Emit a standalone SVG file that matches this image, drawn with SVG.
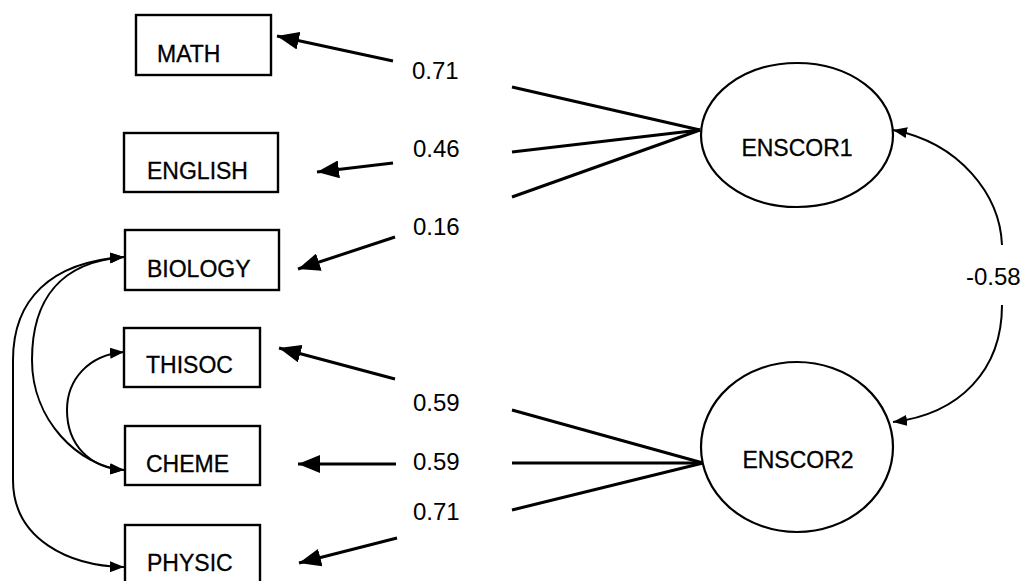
<svg xmlns="http://www.w3.org/2000/svg" width="1029" height="581" viewBox="0 0 1029 581">
<defs>
<marker id="big" markerUnits="userSpaceOnUse" markerWidth="22" markerHeight="18" viewBox="0 0 22 18" refX="22" refY="9" orient="auto-start-reverse">
<path d="M0,0 L22,9 L0,18 Z" fill="#000"/>
</marker>
<marker id="small" markerUnits="userSpaceOnUse" markerWidth="14" markerHeight="11" viewBox="0 0 14 11" refX="14" refY="5.5" orient="auto-start-reverse">
<path d="M0,0 L14,5.5 L0,11 Z" fill="#000"/>
</marker>
<style>
.box{fill:#fff;stroke:#000;stroke-width:2.4}
.lat{fill:#fff;stroke:#000;stroke-width:2.2}
.lbl{font-family:"Liberation Sans",Arial,sans-serif;font-size:23px;fill:#000;stroke:#000;stroke-width:0.3}
.num{font-family:"Liberation Sans",Arial,sans-serif;font-size:24px;fill:#000}
.arr{stroke:#000;stroke-width:3;fill:none;marker-end:url(#big)}
.ld{stroke:#000;stroke-width:3;fill:none}
.cv{stroke:#000;stroke-width:2;fill:none;marker-start:url(#small);marker-end:url(#small)}
.cor{stroke:#000;stroke-width:2;fill:none;marker-end:url(#small)}
</style>
</defs>
<rect width="1029" height="581" fill="#fff"/>
<g id="connectors">
<line class="arr" x1="393" y1="61" x2="277" y2="36"/>
<line class="arr" x1="393" y1="163" x2="317" y2="172"/>
<line class="arr" x1="395" y1="237" x2="298" y2="269"/>
<line class="arr" x1="395" y1="379" x2="279" y2="348"/>
<line class="arr" x1="396" y1="464" x2="298" y2="464"/>
<line class="arr" x1="397" y1="538" x2="299" y2="563"/>
<line class="ld" x1="512" y1="87" x2="700" y2="130"/>
<line class="ld" x1="512" y1="152" x2="700" y2="130"/>
<line class="ld" x1="512" y1="197" x2="700" y2="130"/>
<line class="ld" x1="512" y1="410" x2="703" y2="463"/>
<line class="ld" x1="512" y1="463" x2="703" y2="463"/>
<line class="ld" x1="512" y1="510" x2="703" y2="463"/>
<path class="cv" d="M124,257 C60,262 32,300 32,360 C32,420 78,466 124,470"/>
<path class="cv" d="M124,257 C50,262 13,300 13,360 L13,480 C13,540 70,566 124,567"/>
<path class="cv" d="M124,352 C88,355 67,380 67,410 C67,445 90,468 124,470"/>
<path class="cor" d="M1002,245 C1000,195 960,143 893,130"/>
<path class="cor" d="M1002,305 C1002,370 960,414 893,422"/>
<text class="num" x="412" y="79">0.71</text>
<text class="num" x="413" y="157">0.46</text>
<text class="num" x="413" y="235">0.16</text>
<text class="num" x="413" y="411">0.59</text>
<text class="num" x="413" y="470">0.59</text>
<text class="num" x="413" y="520">0.71</text>
<text class="num" x="966" y="285">-0.58</text>
</g>
<g id="MATH"><rect class="box" x="136" y="15" width="135" height="60"/><text class="lbl" x="157" y="62">MATH</text></g>
<g id="ENGLISH"><rect class="box" x="124" y="133" width="154" height="59"/><text class="lbl" x="147" y="179">ENGLISH</text></g>
<g id="BIOLOGY"><rect class="box" x="125" y="230" width="154" height="60"/><text class="lbl" x="147" y="277">BIOLOGY</text></g>
<g id="THISOC"><rect class="box" x="124" y="328" width="136" height="59"/><text class="lbl" x="146" y="373">THISOC</text></g>
<g id="CHEME"><rect class="box" x="125" y="426" width="135" height="59"/><text class="lbl" x="146" y="472">CHEME</text></g>
<g id="PHYSIC"><rect class="box" x="125" y="525" width="135" height="70"/><text class="lbl" x="147" y="571">PHYSIC</text></g>
<g id="ENSCOR1"><ellipse class="lat" cx="797" cy="135" rx="96" ry="72"/><text class="lbl" x="797" y="156" text-anchor="middle">ENSCOR1</text></g>
<g id="ENSCOR2"><ellipse class="lat" cx="797" cy="447" rx="96" ry="85"/><text class="lbl" x="798" y="468" text-anchor="middle">ENSCOR2</text></g>
</svg>
